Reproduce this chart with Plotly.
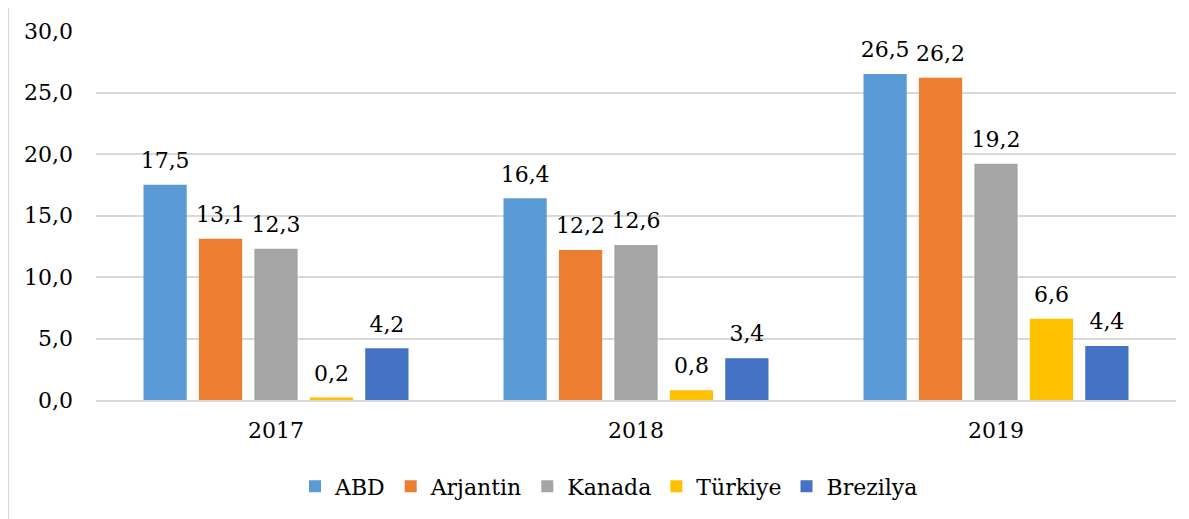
import plotly.graph_objects as go

# data
years = ["2017", "2018", "2019"]
abd = [17.5, 16.4, 26.5]
arjantin = [13.1, 12.2, 26.2]
kanada = [12.3, 12.6, 19.2]
turkiye = [0.2, 0.8, 6.6]
brezilya = [4.2, 3.4, 4.4]

series = [
    ("ABD", abd, "#5B9BD5"),
    ("Arjantin", arjantin, "#ED7D31"),
    ("Kanada", kanada, "#A5A5A5"),
    ("Türkiye", turkiye, "#FFC000"),
    ("Brezilya", brezilya, "#4472C4"),
]

FONT = "DejaVu Serif"
SIZE = 22

fig = go.Figure()
for name, vals, col in series:
    fig.add_trace(go.Bar(
        x=years, y=vals, name=name,
        marker=dict(color=col, line=dict(width=0)),
        text=[f"{v:.1f}".replace(".", ",") for v in vals],
        # small trailing line lifts the label a little off the bar, like Excel
        texttemplate="<span style='font-size:%dpx'>%%{text}</span><br> " % SIZE,
        textposition="outside", constraintext="none",
        textfont=dict(size=9, color="#000000", family=FONT),
        cliponaxis=False,
    ))

# page body has an 8px margin, so the figure is a bit smaller than the window
fig.update_layout(
    width=1181, height=511,
    margin=dict(l=88, r=13, t=23, b=115),
    paper_bgcolor="white", plot_bgcolor="white",
    font=dict(family=FONT, size=SIZE, color="#000000"),
    separators=",.",
    barmode="group", bargap=0.23, bargroupgap=0.22,
    showlegend=True,
    legend=dict(orientation="h", x=0.475, xanchor="center", y=-0.234, yanchor="middle",
                font=dict(size=SIZE, family=FONT), itemwidth=30, tracegroupgap=0),
    xaxis=dict(showgrid=False, showline=True, linecolor="#D9D9D9", linewidth=1.5,
               ticks="", ticklabelstandoff=10, tickfont=dict(family=FONT, size=SIZE)),
    yaxis=dict(range=[0, 30], dtick=5, tickformat=".1f", showgrid=True,
               gridcolor="#D9D9D9", gridwidth=1.5, zeroline=False, showline=False,
               ticks="", ticklabelstandoff=22, tickfont=dict(family=FONT, size=SIZE)),
    shapes=[
        dict(type="line", xref="paper", yref="paper", x0=-0.0812, x1=-0.0812,
             y0=-0.35, y1=1.0817, line=dict(color="#D9D9D9", width=1.5)),
        dict(type="line", xref="paper", yref="paper", x0=-0.0812, x1=1.03,
             y0=1.0817, y1=1.0817, line=dict(color="#D9D9D9", width=1.5)),
    ],
)

fig.write_html("out.html")
